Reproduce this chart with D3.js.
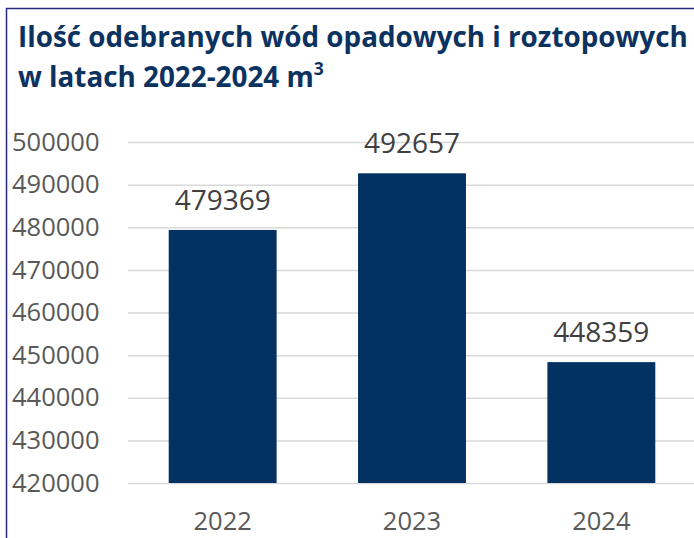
<!DOCTYPE html>
<html>
<head>
	<meta charset="UTF-8">
	<title>Wody opadowe</title>
	<style>
		body { margin: 0; background: #fff; }
		svg { display: block; font-family: "Open Sans", sans-serif; }
	</style>
</head>
<body>
	<div class="chart"></div>

	<script src="https://cdn.jsdelivr.net/npm/d3@7"></script>
	<script>
		var years = ["2022", "2023", "2024"];
		var volumes = [479369, 492657, 448359];
		var yTicks = [420000, 430000, 440000, 450000, 460000, 470000, 480000, 490000, 500000];

		var w = 694;
		var h = 538;
		var plotLeft = 128;
		var plotTop = 142, plotBottom = 483;

		var SVG = d3.select("div.chart").append("svg")
					.attr("width", w)
					.attr("height", h);

		/* frame (top + left edge) */
		SVG.append("path")
			.attr("d", "M6.5," + h + "V8.5H" + w)
			.attr("fill", "none")
			.attr("stroke", "#27287e")
			.attr("stroke-width", 1.5);

		/* title */
		var title = SVG.append("g").attr("fill", "#0c325f")
					.attr("font-weight", "bold")
					.attr("font-size", "28.5px");
		var t1 = title.append("text").attr("x", 0).attr("y", 47)
					.text("Ilość odebranych wód opadowych i roztopowych");
		var t2 = title.append("text").attr("x", 0).attr("y", 87);
		t2.append("tspan").text("w latach 2022-2024 m");
		t2.append("tspan").attr("font-size", "18px").attr("dy", "-12").text("3");
		var sx = 670 / t1.node().getComputedTextLength();
		title.attr("transform", "translate(18,0) scale(" + sx + ",1)");

		/* scales */
		var xSCALE = d3.scaleBand()
						.domain(years)
						.range([plotLeft, w + 2])
						.paddingInner(0.43)
						.paddingOuter(0.215);

		var ySCALE = d3.scaleLinear()
						.domain([420000, 500000])
						.range([plotBottom, plotTop]);

		/* grid + y labels */
		var yAxis = d3.axisLeft(ySCALE)
					.tickValues(yTicks)
					.tickSize(-(w - plotLeft))
					.tickFormat(d3.format("d"));

		var gy = SVG.append("g")
			.attr("transform", "translate(" + plotLeft + ",0)")
			.call(yAxis);
		gy.select(".domain").remove();
		gy.selectAll("line").attr("stroke", "#d9d9d9").attr("stroke-width", 1.5);
		gy.selectAll("text")
			.attr("x", 12 - plotLeft)
			.attr("text-anchor", "start")
			.attr("fill", "#595959")
			.attr("font-size", "25.5px")
			.attr("font-family", "Open Sans");

		/* bars */
		var data = years.map(function(y, i) { return { year: y, v: volumes[i] }; });

		SVG.selectAll("rect.bar")
			.data(data)
			.enter()
			.append("rect")
			.attr("class", "bar")
			.attr("x", function(d) { return xSCALE(d.year); })
			.attr("y", function(d) { return ySCALE(d.v); })
			.attr("width", xSCALE.bandwidth())
			.attr("height", function(d) { return plotBottom - ySCALE(d.v); })
			.attr("fill", "#033262");

		/* value labels */
		SVG.selectAll("text.val")
			.data(data)
			.enter()
			.append("text")
			.attr("class", "val")
			.attr("x", function(d) { return xSCALE(d.year) + xSCALE.bandwidth() / 2; })
			.attr("y", function(d) { return ySCALE(d.v) - 20; })
			.attr("text-anchor", "middle")
			.attr("font-size", "28px")
			.attr("fill", "#404040")
			.text(function(d) { return d.v; });

		/* x labels */
		var xAxis = d3.axisBottom(xSCALE).tickSize(0).tickPadding(0);
		var gx = SVG.append("g")
			.attr("transform", "translate(0," + plotBottom + ")")
			.call(xAxis);
		gx.select(".domain").remove();
		gx.selectAll("text")
			.attr("dy", null)
			.attr("y", 47)
			.attr("fill", "#595959")
			.attr("font-size", "25.5px")
			.attr("font-family", "Open Sans");
	</script>
</body>
</html>
